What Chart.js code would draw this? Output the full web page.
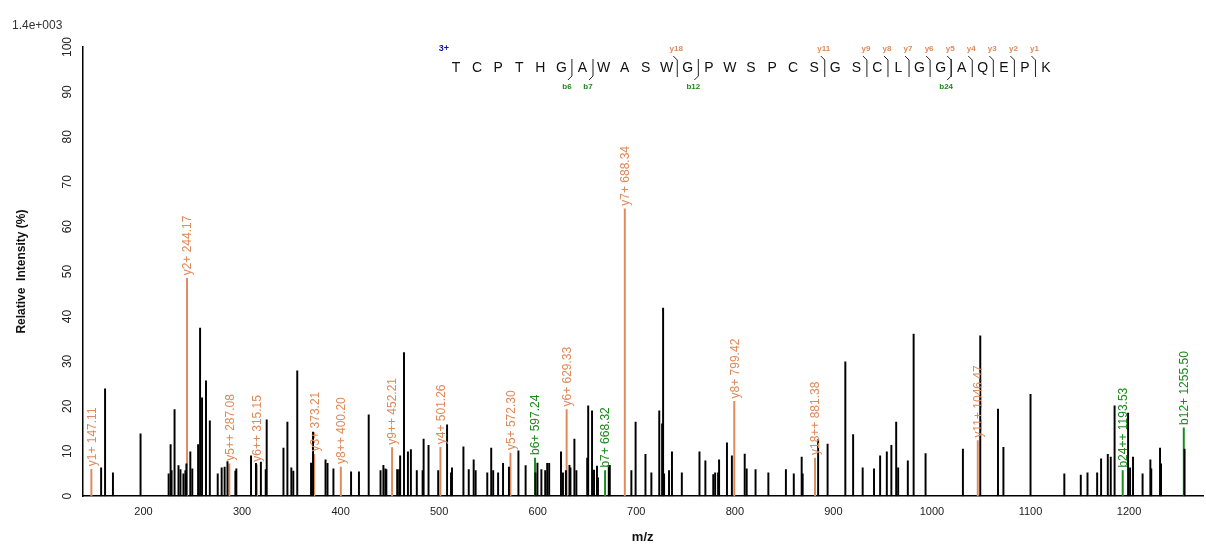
<!DOCTYPE html>
<html>
<head>
<meta charset="utf-8">
<script src="https://cdn.jsdelivr.net/npm/chart.js@4.4.0/dist/chart.umd.min.js"></script>
<style>
  html, body { margin: 0; padding: 0; background: #fff; }
  #wrap { width: 1206px; height: 553px; position: relative; }
</style>
</head>
<body>
<div id="wrap"><canvas id="spec" width="1206" height="553"></canvas></div>
<script>
// unassigned peaks [m/z, relative intensity %]
const otherMz = [157,161,169,197,225.5,227.5,228.5,231.5,235.5,237.5,240.5,242.5,243.5,247.5,249.5,255.4,257.4,259.4,263.4,267.3,
  275.3,279.3,282.3,285.2,293.2,294.2,309.1,314.1,319.1,324,325,342,346,350,352,356,370,372,384.7,386.7,392.7,410.6,418.6,428.5,
  440.5,443.4,445.4,446.4,457.4,459.4,460.4,464.3,468.3,471.3,477.3,483.2,484.2,489.2,499,508,512,513,524.6,530,535,537,548.8,
  552.8,554.8,559.8,564.8,570.8,580.4,587.7,597.7,599.7,603.7,607.6,609.6,611.6,623.6,625.6,628.6,632.2,633.2,637.2,639.2,650.2,
  651.2,655.1,657.1,660.1,661.1,672.1,673.1,695,699.3,709.3,715.3,723.3,726.2,727.2,728.2,733.2,736.2,746.2,764.1,770.1,778.1,
  780,783,784,792,797,810,812,821,834,851.8,859.8,867.8,868.8,884.5,894.1,912.1,920,929.7,941.2,947.4,954.2,958.8,963.7,965.7,
  975.5,981.4,993.5,1031.4,1049,1067,1072.5,1100,1134.3,1151,1157.8,1167.6,1171.6,1178.4,1181.4,1185.3,1199,1201,1204,1213.7,
  1221.6,1222.5,1231.4,1232.4,1256.3];
const otherInt = [6.3,23.9,5.2,13.9,5,11.5,5.7,19.3,6.8,5.9,5,5.7,7.2,9.9,6.1,11.5,37.4,21.9,25.7,16.8,
  5,6.3,6.5,7.7,5.6,6.1,9,7.3,7.6,5.9,17,10.7,16.5,6.3,5.6,27.9,7.4,14.3,8.1,7.3,6.1,5.4,5.4,18.1,
  5.7,6.9,6.1,5.9,5.9,5.9,9,32,9.9,10.4,5.7,5.7,12.7,11.3,5.7,15.9,5.2,6.3,11,5.9,8.1,5.7,5.2,
  10.7,5.7,5.2,7.3,6.5,10.1,6.8,5.2,7.4,5.9,5.7,7.3,7.3,9.9,5.2,5.7,6.9,6.3,12.7,5.7,8.5,
  20.1,19,5.8,6.7,4.1,6.8,6.9,5.7,16.5,9.3,5.2,19,16.1,41.9,5,5.7,9.9,5.2,9.9,7.9,4.8,
  5.2,5.2,8.1,11.9,9,9.4,6.1,5.9,5.2,5.9,5,8.7,5,12.6,11.6,29.9,13.7,6.3,6.1,9,9.9,11.3,16.5,6.3,
  7.9,36.1,9.5,10.5,35.7,19.4,10.9,22.7,5,4.7,5.2,5.2,8.3,9.3,8.7,20.1,18.5,6.3,8.7,5,
  8.1,6.1,10.7,7.2,10.5];

// y-ion matches
const yLabels = ["y1+ 147.11","y2+ 244.17","y5++ 287.08","y6++ 315.15","y3+ 373.21","y8++ 400.20","y9++ 452.21",
  "y4+ 501.26","y5+ 572.30","y6+ 629.33","y7+ 688.34","y8+ 799.42","y18++ 881.38","y11+ 1046.47"];
const yMz  = [147.11,244.17,287.08,315.15,373.21,400.20,452.21,501.26,572.30,629.33,688.34,799.42,881.38,1046.47];
const yInt = [6,48.5,7.2,7,9.3,6.5,10.8,10.9,9.6,19.3,64,21.1,8.5,12.4];

// b-ion matches
const bLabels = ["b6+ 597.24","b7+ 668.32","b24++ 1193.53","b12+ 1255.50"];
const bMz  = [597.24,668.32,1193.53,1255.50];
const bInt = [8.5,5.7,5.7,15.2];

const sequence = "TCPTHGAWASWGPWSPCSGSCLGGAQEPK".split("");
// cleavage marks: [index of residue right of cut, label, type]
const cuts = [[6,"b6","b"],[7,"b7","b"],[11,"y18","y"],[12,"b12","b"],[18,"y11","y"],[20,"y9","y"],[21,"y8","y"],
  [22,"y7","y"],[23,"y6","y"],[24,"y5","y"],[24,"b24","b"],[25,"y4","y"],[26,"y3","y"],[27,"y2","y"],[28,"y1","y"]];

const ORANGE = "#e0895a", GREEN = "#1b8a1b";
const pts = (xs, ys) => xs.map((x, i) => ({ x: x, y: ys[i] }));

const overlay = {
  id: "overlay",
  afterDatasetsDraw(chart) {
    const { ctx, scales: { x, y } } = chart;
    ctx.save();
    // ion labels, rotated
    ctx.font = "12px Arial, 'Liberation Sans', sans-serif";
    const lab = (mz, v, t, c) => {
      const px = x.getPixelForValue(mz), py = y.getPixelForValue(v);
      ctx.save();
      ctx.translate(px + 1, py - 3);
      ctx.rotate(-Math.PI / 2);
      ctx.fillStyle = c;
      ctx.textBaseline = "middle";
      ctx.fillText(t, 0, 0);
      ctx.restore();
    };
    yLabels.forEach((t, i) => lab(yMz[i], yInt[i], t, ORANGE));
    bLabels.forEach((t, i) => lab(bMz[i], bInt[i], t, GREEN));
    // y tick labels, rotated
    ctx.fillStyle = "#222";
    for (let v = 0; v <= 100; v += 10) {
      const py = y.getPixelForValue(v);
      ctx.save();
      ctx.translate(x.left - 15, py);
      ctx.rotate(-Math.PI / 2);
      ctx.textAlign = "center";
      ctx.textBaseline = "middle";
      ctx.fillText(String(v), 0, 0);
      ctx.restore();
    }
    // scale factor
    ctx.fillStyle = "#333";
    ctx.font = "12px Arial, sans-serif";
    ctx.fillText("1.4e+003", 12, 29);
    // sequence
    const x0 = 456, dx = 21.07, sy = 68;
    ctx.font = "14px Arial, sans-serif";
    ctx.textAlign = "center";
    ctx.textBaseline = "middle";
    ctx.fillStyle = "#111";
    sequence.forEach((s, i) => ctx.fillText(s, x0 + i * dx, sy));
    ctx.fillStyle = "#1010b0";
    ctx.font = "bold 9px Arial, sans-serif";
    ctx.fillText("3+", 444, 49);
    ctx.font = "bold 8px Arial, sans-serif";
    ctx.lineWidth = 1;
    cuts.forEach(([i, t, k]) => {
      const cx = x0 + i * dx - 10.5;
      ctx.strokeStyle = "#222";
      ctx.beginPath();
      if (k === "y") { ctx.moveTo(cx - 4, 56); ctx.lineTo(cx, 60); ctx.lineTo(cx, 77); }
      else { ctx.moveTo(cx, 59); ctx.lineTo(cx, 76); ctx.lineTo(cx - 4, 80); }
      ctx.stroke();
      ctx.fillStyle = k === "y" ? ORANGE : GREEN;
      if (k === "y") ctx.fillText(t, cx - 1, 49);
      else ctx.fillText(t, cx - 5, 87);
    });
    ctx.restore();
  }
};

new Chart(document.getElementById("spec"), {
  type: "bar",
  data: {
    datasets: [
      { data: pts(otherMz, otherInt), backgroundColor: "#000", barThickness: 1.3, grouped: false },
      { data: pts(yMz, yInt), backgroundColor: ORANGE, barThickness: 1.3, grouped: false },
      { data: pts(bMz, bInt), backgroundColor: GREEN, barThickness: 1.3, grouped: false }
    ]
  },
  options: {
    responsive: false,
    animation: false,
    layout: { padding: { top: 47, right: 1, left: 10, bottom: 4 } },
    plugins: { legend: { display: false }, tooltip: { enabled: false } },
    scales: {
      x: {
        type: "linear", min: 138, max: 1275, offset: false,
        grid: { display: false, drawTicks: true, tickLength: 6, tickColor: "#000" },
        border: { color: "#000", width: 1.5 },
        ticks: {
          stepSize: 20, autoSkip: false, maxRotation: 0, color: "#222",
          font: { size: 11, family: "Arial, 'Liberation Sans', sans-serif" },
          callback: v => v % 100 === 0 ? v : ""
        },
        title: { display: true, text: "m/z", font: { size: 13, weight: "bold", family: "Arial, sans-serif" }, color: "#111", padding: { top: 8 } }
      },
      y: {
        min: 0, max: 100,
        grid: { display: false, drawTicks: true, tickLength: 6, tickColor: "#000" },
        border: { color: "#000", width: 1.5 },
        ticks: { stepSize: 2, autoSkip: false, callback: () => "", padding: 22 },
        title: { display: true, text: "Relative  Intensity (%)", font: { size: 12, weight: "bold", family: "Arial, sans-serif" }, color: "#111" }
      }
    }
  },
  plugins: [overlay]
});
</script>
</body>
</html>
